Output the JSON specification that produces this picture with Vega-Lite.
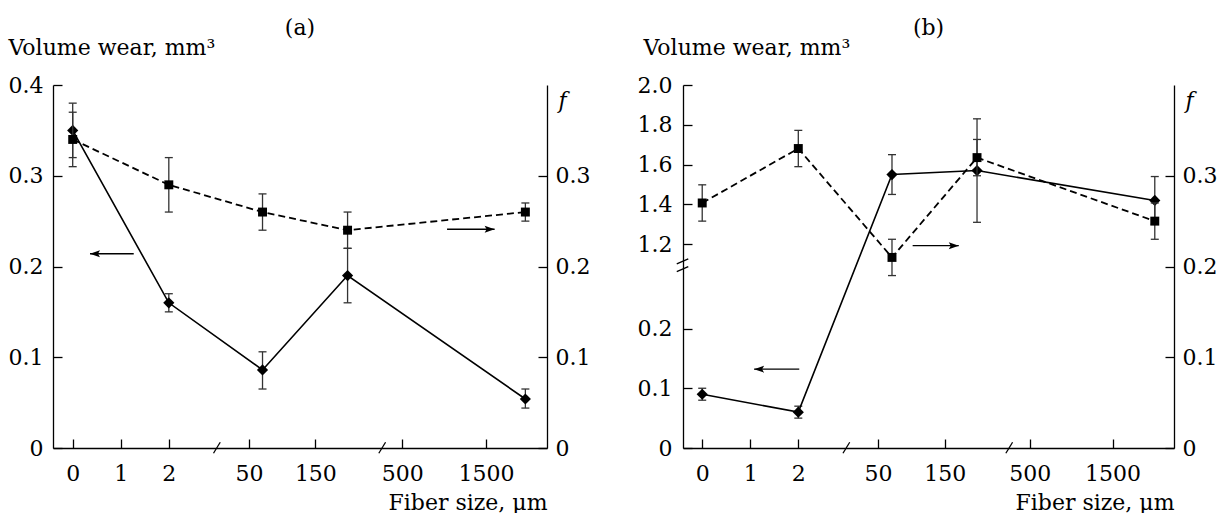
{
  "$schema": "https://vega.github.io/schema/vega-lite/v6.json",
  "padding": {"left": 8, "top": 16, "right": 0, "bottom": 0},
  "autosize": {"type": "pad"},
  "spacing": 136,
  "bounds": "flush",
  "config": {
    "font": "DejaVu Serif",
    "view": {"stroke": null},
    "axis": {"grid": false, "domainColor": "#000", "domainWidth": 1.3, "tickColor": "#000", "tickWidth": 1.3, "tickSize": -9,
      "labelFontSize": 22, "labelColor": "#000", "titleFontSize": 22,
      "titleFontWeight": "normal", "titleColor": "#000", "labelFlush": false, "labelOverlap": false}
  },
  "datasets": {
    "a": [
      {"pos": 0, "wear": 0.35, "wlo": 0.32, "whi": 0.38, "f": 0.34, "flo": 0.31, "fhi": 0.37},
      {"pos": 2, "wear": 0.16, "wlo": 0.15, "whi": 0.17, "f": 0.29, "flo": 0.26, "fhi": 0.32},
      {"pos": 3.95, "wear": 0.086, "wlo": 0.065, "whi": 0.106, "f": 0.26, "flo": 0.24, "fhi": 0.28},
      {"pos": 5.72, "wear": 0.19, "wlo": 0.16, "whi": 0.22, "f": 0.24, "flo": 0.22, "fhi": 0.26},
      {"pos": 9.42, "wear": 0.054, "wlo": 0.044, "whi": 0.065, "f": 0.26, "flo": 0.25, "fhi": 0.27}
    ],
    "b": [
      {"pos": 0, "wear": 0.09, "wlo": 0.08, "whi": 0.10, "f": 0.27, "flo": 0.25, "fhi": 0.29},
      {"pos": 2, "wear": 0.06, "wlo": 0.05, "whi": 0.07, "f": 0.33, "flo": 0.31, "fhi": 0.35},
      {"pos": 3.95, "wear": 1.55, "wlo": 1.45, "whi": 1.65, "f": 0.21, "flo": 0.19, "fhi": 0.23},
      {"pos": 5.72, "wear": 1.57, "wlo": 1.31, "whi": 1.83, "f": 0.32, "flo": 0.30, "fhi": 0.34},
      {"pos": 9.42, "wear": 1.42, "wlo": 1.30, "whi": 1.54, "f": 0.25, "flo": 0.23, "fhi": 0.27}
    ],
    "a_left_arrow": [{"tail": 1.27, "tip": 0.36, "y": 0.214}],
    "a_right_arrow": [{"tail": 7.79, "tip": 8.78, "y": 0.241}],
    "b_left_arrow": [{"tail": 2.02, "tip": 1.08, "y": 0.132}],
    "b_right_arrow": [{"tail": 4.38, "tip": 5.34, "y": 0.223}],
    "a_breaks": [
      {"x1": 2.93, "x2": 3.07, "y1": -0.0058, "y2": 0.0063},
      {"x1": 6.37, "x2": 6.51, "y1": -0.0058, "y2": 0.0063}
    ],
    "b_breaks": [
      {"x1": 2.93, "x2": 3.07, "y1": -0.0058, "y2": 0.0063},
      {"x1": 6.32, "x2": 6.46, "y1": -0.0058, "y2": 0.0063},
      {"x1": -0.53, "x2": -0.29, "y1": 0.1943, "y2": 0.1998},
      {"x1": -0.53, "x2": -0.29, "y1": 0.2028, "y2": 0.2083}
    ]
  },
  "hconcat": [
    {
      "width": 494,
      "height": 363,
      "title": {"text": "(a)", "fontSize": 22, "font": "DejaVu Serif", "fontWeight": "normal", "color": "#000", "anchor": "middle", "frame": "group", "baseline": "alphabetic", "offset": -20.5},
      "layer": [
        {
          "layer": [
            {
              "data": {"name": "a"},
              "mark": {"type": "rule", "color": "#333", "strokeWidth": 1.3},
              "encoding": {
                "x": {"field": "pos", "type": "quantitative", "scale": {"domain": [-0.41, 9.87], "nice": false, "zero": false},
                  "axis": {"values": [0, 1, 2, 3.67, 5.05, 6.86, 8.6], "labelFont": "DejaVu Serif", "titleFont": "DejaVu Serif",
                    "labelExpr": "datum.value < 0.5 ? '0' : datum.value < 1.5 ? '1' : datum.value < 2.5 ? '2' : datum.value < 4 ? '50' : datum.value < 6 ? '150' : datum.value < 7.5 ? '500' : '1500'",
                    "labelPadding": 41, "labelBaseline": "alphabetic", "labelAlign": "center",
                    "title": "Fiber size, μm", "titleX": 494, "titleY": 61, "titleAlign": "right", "titleBaseline": "alphabetic"}},
                "y": {"field": "wlo", "type": "quantitative", "scale": {"domain": [0, 0.4], "nice": false, "zero": false},
                  "axis": {"values": [0, 0.1, 0.2, 0.3, 0.4], "labelFont": "DejaVu Serif", "titleFont": "DejaVu Serif", "labelExpr": "datum.value == 0 ? '0' : format(datum.value, '.1f')",
                    "labelPadding": 19, "labelBaseline": "middle",
                    "title": "Volume wear, mm³", "titleAngle": 0, "titleAlign": "left", "titleBaseline": "alphabetic", "titleX": -45, "titleY": -31}},
                "y2": {"field": "whi"}
              }
            },
            {
              "data": {"name": "a"},
              "mark": {"type": "tick", "orient": "horizontal", "size": 8, "thickness": 1.3, "color": "#333", "opacity": 1},
              "encoding": {
                "x": {"field": "pos", "type": "quantitative", "scale": {"domain": [-0.41, 9.87], "nice": false, "zero": false}},
                "y": {"field": "wlo", "type": "quantitative", "scale": {"domain": [0, 0.4], "nice": false, "zero": false}}
              }
            },
            {
              "data": {"name": "a"},
              "mark": {"type": "tick", "orient": "horizontal", "size": 8, "thickness": 1.3, "color": "#333", "opacity": 1},
              "encoding": {
                "x": {"field": "pos", "type": "quantitative", "scale": {"domain": [-0.41, 9.87], "nice": false, "zero": false}},
                "y": {"field": "whi", "type": "quantitative", "scale": {"domain": [0, 0.4], "nice": false, "zero": false}}
              }
            },
            {
              "data": {"name": "a"},
              "mark": {"type": "line", "color": "#000", "strokeWidth": 1.6},
              "encoding": {
                "x": {"field": "pos", "type": "quantitative", "scale": {"domain": [-0.41, 9.87], "nice": false, "zero": false}},
                "y": {"field": "wear", "type": "quantitative", "scale": {"domain": [0, 0.4], "nice": false, "zero": false}}
              }
            },
            {
              "data": {"name": "a"},
              "mark": {"type": "point", "shape": "diamond", "filled": true, "size": 125, "color": "#000", "opacity": 1},
              "encoding": {
                "x": {"field": "pos", "type": "quantitative", "scale": {"domain": [-0.41, 9.87], "nice": false, "zero": false}},
                "y": {"field": "wear", "type": "quantitative", "scale": {"domain": [0, 0.4], "nice": false, "zero": false}}
              }
            },
            {
              "data": {"name": "a_left_arrow"},
              "mark": {"type": "rule", "color": "#000", "strokeWidth": 1.4},
              "encoding": {
                "x": {"field": "tip", "type": "quantitative", "scale": {"domain": [-0.41, 9.87], "nice": false, "zero": false}},
                "x2": {"field": "tail"},
                "y": {"field": "y", "type": "quantitative", "scale": {"domain": [0, 0.4], "nice": false, "zero": false}}
              }
            },
            {
              "data": {"name": "a_left_arrow"},
              "mark": {"type": "point", "shape": "M0,0L1,-0.35L0.8,0L1,0.35Z", "filled": true, "size": 400, "color": "#000", "opacity": 1, "strokeWidth": 0},
              "encoding": {
                "x": {"field": "tip", "type": "quantitative", "scale": {"domain": [-0.41, 9.87], "nice": false, "zero": false}},
                "y": {"field": "y", "type": "quantitative", "scale": {"domain": [0, 0.4], "nice": false, "zero": false}}
              }
            }
          ]
        },
        {
          "layer": [
            {
              "data": {"name": "a"},
              "mark": {"type": "rule", "color": "#333", "strokeWidth": 1.3},
              "encoding": {
                "x": {"field": "pos", "type": "quantitative", "scale": {"domain": [-0.41, 9.87], "nice": false, "zero": false}},
                "y": {"field": "flo", "type": "quantitative", "scale": {"domain": [0, 0.4], "nice": false, "zero": false},
                  "axis": {"orient": "right", "values": [0, 0.1, 0.2, 0.3], "labelFont": "DejaVu Serif", "titleFont": "DejaVu Serif", "labelExpr": "datum.value == 0 ? '0' : format(datum.value, '.1f')",
                    "labelPadding": 17, "labelBaseline": "middle",
                    "title": "f", "titleFontStyle": "italic", "titleAngle": 0, "titleAlign": "left", "titleBaseline": "alphabetic", "titleX": 11, "titleY": 22}},
                "y2": {"field": "fhi"}
              }
            },
            {
              "data": {"name": "a"},
              "mark": {"type": "tick", "orient": "horizontal", "size": 8, "thickness": 1.3, "color": "#333", "opacity": 1},
              "encoding": {
                "x": {"field": "pos", "type": "quantitative", "scale": {"domain": [-0.41, 9.87], "nice": false, "zero": false}},
                "y": {"field": "flo", "type": "quantitative", "scale": {"domain": [0, 0.4], "nice": false, "zero": false}}
              }
            },
            {
              "data": {"name": "a"},
              "mark": {"type": "tick", "orient": "horizontal", "size": 8, "thickness": 1.3, "color": "#333", "opacity": 1},
              "encoding": {
                "x": {"field": "pos", "type": "quantitative", "scale": {"domain": [-0.41, 9.87], "nice": false, "zero": false}},
                "y": {"field": "fhi", "type": "quantitative", "scale": {"domain": [0, 0.4], "nice": false, "zero": false}}
              }
            },
            {
              "data": {"name": "a"},
              "mark": {"type": "line", "color": "#000", "strokeWidth": 1.8, "strokeDash": [7, 4]},
              "encoding": {
                "x": {"field": "pos", "type": "quantitative", "scale": {"domain": [-0.41, 9.87], "nice": false, "zero": false}},
                "y": {"field": "f", "type": "quantitative", "scale": {"domain": [0, 0.4], "nice": false, "zero": false}}
              }
            },
            {
              "data": {"name": "a"},
              "mark": {"type": "point", "shape": "square", "filled": true, "size": 80, "color": "#000", "opacity": 1},
              "encoding": {
                "x": {"field": "pos", "type": "quantitative", "scale": {"domain": [-0.41, 9.87], "nice": false, "zero": false}},
                "y": {"field": "f", "type": "quantitative", "scale": {"domain": [0, 0.4], "nice": false, "zero": false}}
              }
            },
            {
              "data": {"name": "a_right_arrow"},
              "mark": {"type": "rule", "color": "#000", "strokeWidth": 1.4},
              "encoding": {
                "x": {"field": "tail", "type": "quantitative", "scale": {"domain": [-0.41, 9.87], "nice": false, "zero": false}},
                "x2": {"field": "tip"},
                "y": {"field": "y", "type": "quantitative", "scale": {"domain": [0, 0.4], "nice": false, "zero": false}}
              }
            },
            {
              "data": {"name": "a_right_arrow"},
              "mark": {"type": "point", "shape": "M0,0L-1,-0.35L-0.8,0L-1,0.35Z", "filled": true, "size": 400, "color": "#000", "opacity": 1, "strokeWidth": 0},
              "encoding": {
                "x": {"field": "tip", "type": "quantitative", "scale": {"domain": [-0.41, 9.87], "nice": false, "zero": false}},
                "y": {"field": "y", "type": "quantitative", "scale": {"domain": [0, 0.4], "nice": false, "zero": false}}
              }
            },
            {
              "data": {"name": "a_breaks"},
              "mark": {"type": "rule", "color": "#000", "strokeWidth": 1.3},
              "encoding": {
                "x": {"field": "x1", "type": "quantitative", "scale": {"domain": [-0.41, 9.87], "nice": false, "zero": false}},
                "x2": {"field": "x2"},
                "y": {"field": "y1", "type": "quantitative", "scale": {"domain": [0, 0.4], "nice": false, "zero": false}},
                "y2": {"field": "y2"}
              }
            }
          ]
        }
      ],
      "resolve": {"scale": {"y": "independent"}}
    },
    {
      "width": 491,
      "height": 363,
      "title": {"text": "(b)", "fontSize": 22, "font": "DejaVu Serif", "fontWeight": "normal", "color": "#000", "anchor": "middle", "frame": "group", "baseline": "alphabetic", "offset": -20.5},
      "layer": [
        {
          "layer": [
            {
              "data": {"name": "b"},
              "mark": {"type": "rule", "color": "#333", "strokeWidth": 1.3},
              "encoding": {
                "x": {"field": "pos", "type": "quantitative", "scale": {"domain": [-0.40, 9.82], "nice": false, "zero": false},
                  "axis": {"values": [0, 1, 2, 3.66, 5.05, 6.82, 8.54], "labelFont": "DejaVu Serif", "titleFont": "DejaVu Serif",
                    "labelExpr": "datum.value < 0.5 ? '0' : datum.value < 1.5 ? '1' : datum.value < 2.5 ? '2' : datum.value < 4 ? '50' : datum.value < 6 ? '150' : datum.value < 7.5 ? '500' : '1500'",
                    "labelPadding": 41, "labelBaseline": "alphabetic", "labelAlign": "center",
                    "title": "Fiber size, μm", "titleX": 491, "titleY": 61, "titleAlign": "right", "titleBaseline": "alphabetic"}},
                "y": {"field": "wlo", "type": "quantitative", "scale": {"type": "linear", "domain": [0, 0.3, 1.1, 2.0], "range": [363, 183.75, 179.1, 0], "nice": false, "zero": false},
                  "axis": {"values": [0, 0.1, 0.2, 1.2, 1.4, 1.6, 1.8, 2.0], "labelFont": "DejaVu Serif", "titleFont": "DejaVu Serif", "labelExpr": "datum.value == 0 ? '0' : format(datum.value, '.1f')",
                    "labelPadding": 20, "labelBaseline": "middle",
                    "title": "Volume wear, mm³", "titleAngle": 0, "titleAlign": "left", "titleBaseline": "alphabetic", "titleX": -40, "titleY": -31}},
                "y2": {"field": "whi"}
              }
            },
            {
              "data": {"name": "b"},
              "mark": {"type": "tick", "orient": "horizontal", "size": 8, "thickness": 1.3, "color": "#333", "opacity": 1},
              "encoding": {
                "x": {"field": "pos", "type": "quantitative", "scale": {"domain": [-0.40, 9.82], "nice": false, "zero": false}},
                "y": {"field": "wlo", "type": "quantitative", "scale": {"type": "linear", "domain": [0, 0.3, 1.1, 2.0], "range": [363, 183.75, 179.1, 0], "nice": false, "zero": false}}
              }
            },
            {
              "data": {"name": "b"},
              "mark": {"type": "tick", "orient": "horizontal", "size": 8, "thickness": 1.3, "color": "#333", "opacity": 1},
              "encoding": {
                "x": {"field": "pos", "type": "quantitative", "scale": {"domain": [-0.40, 9.82], "nice": false, "zero": false}},
                "y": {"field": "whi", "type": "quantitative", "scale": {"type": "linear", "domain": [0, 0.3, 1.1, 2.0], "range": [363, 183.75, 179.1, 0], "nice": false, "zero": false}}
              }
            },
            {
              "data": {"name": "b"},
              "mark": {"type": "line", "color": "#000", "strokeWidth": 1.6},
              "encoding": {
                "x": {"field": "pos", "type": "quantitative", "scale": {"domain": [-0.40, 9.82], "nice": false, "zero": false}},
                "y": {"field": "wear", "type": "quantitative", "scale": {"type": "linear", "domain": [0, 0.3, 1.1, 2.0], "range": [363, 183.75, 179.1, 0], "nice": false, "zero": false}}
              }
            },
            {
              "data": {"name": "b"},
              "mark": {"type": "point", "shape": "diamond", "filled": true, "size": 125, "color": "#000", "opacity": 1},
              "encoding": {
                "x": {"field": "pos", "type": "quantitative", "scale": {"domain": [-0.40, 9.82], "nice": false, "zero": false}},
                "y": {"field": "wear", "type": "quantitative", "scale": {"type": "linear", "domain": [0, 0.3, 1.1, 2.0], "range": [363, 183.75, 179.1, 0], "nice": false, "zero": false}}
              }
            },
            {
              "data": {"name": "b_left_arrow"},
              "mark": {"type": "rule", "color": "#000", "strokeWidth": 1.4},
              "encoding": {
                "x": {"field": "tip", "type": "quantitative", "scale": {"domain": [-0.40, 9.82], "nice": false, "zero": false}},
                "x2": {"field": "tail"},
                "y": {"field": "y", "type": "quantitative", "scale": {"type": "linear", "domain": [0, 0.3, 1.1, 2.0], "range": [363, 183.75, 179.1, 0], "nice": false, "zero": false}}
              }
            },
            {
              "data": {"name": "b_left_arrow"},
              "mark": {"type": "point", "shape": "M0,0L1,-0.35L0.8,0L1,0.35Z", "filled": true, "size": 400, "color": "#000", "opacity": 1, "strokeWidth": 0},
              "encoding": {
                "x": {"field": "tip", "type": "quantitative", "scale": {"domain": [-0.40, 9.82], "nice": false, "zero": false}},
                "y": {"field": "y", "type": "quantitative", "scale": {"type": "linear", "domain": [0, 0.3, 1.1, 2.0], "range": [363, 183.75, 179.1, 0], "nice": false, "zero": false}}
              }
            }
          ]
        },
        {
          "layer": [
            {
              "data": {"name": "b"},
              "mark": {"type": "rule", "color": "#333", "strokeWidth": 1.3},
              "encoding": {
                "x": {"field": "pos", "type": "quantitative", "scale": {"domain": [-0.40, 9.82], "nice": false, "zero": false}},
                "y": {"field": "flo", "type": "quantitative", "scale": {"domain": [0, 0.4], "nice": false, "zero": false},
                  "axis": {"orient": "right", "values": [0, 0.1, 0.2, 0.3], "labelFont": "DejaVu Serif", "titleFont": "DejaVu Serif", "labelExpr": "datum.value == 0 ? '0' : format(datum.value, '.1f')",
                    "labelPadding": 17, "labelBaseline": "middle",
                    "title": "f", "titleFontStyle": "italic", "titleAngle": 0, "titleAlign": "left", "titleBaseline": "alphabetic", "titleX": 11, "titleY": 22}},
                "y2": {"field": "fhi"}
              }
            },
            {
              "data": {"name": "b"},
              "mark": {"type": "tick", "orient": "horizontal", "size": 8, "thickness": 1.3, "color": "#333", "opacity": 1},
              "encoding": {
                "x": {"field": "pos", "type": "quantitative", "scale": {"domain": [-0.40, 9.82], "nice": false, "zero": false}},
                "y": {"field": "flo", "type": "quantitative", "scale": {"domain": [0, 0.4], "nice": false, "zero": false}}
              }
            },
            {
              "data": {"name": "b"},
              "mark": {"type": "tick", "orient": "horizontal", "size": 8, "thickness": 1.3, "color": "#333", "opacity": 1},
              "encoding": {
                "x": {"field": "pos", "type": "quantitative", "scale": {"domain": [-0.40, 9.82], "nice": false, "zero": false}},
                "y": {"field": "fhi", "type": "quantitative", "scale": {"domain": [0, 0.4], "nice": false, "zero": false}}
              }
            },
            {
              "data": {"name": "b"},
              "mark": {"type": "line", "color": "#000", "strokeWidth": 1.8, "strokeDash": [7, 4]},
              "encoding": {
                "x": {"field": "pos", "type": "quantitative", "scale": {"domain": [-0.40, 9.82], "nice": false, "zero": false}},
                "y": {"field": "f", "type": "quantitative", "scale": {"domain": [0, 0.4], "nice": false, "zero": false}}
              }
            },
            {
              "data": {"name": "b"},
              "mark": {"type": "point", "shape": "square", "filled": true, "size": 80, "color": "#000", "opacity": 1},
              "encoding": {
                "x": {"field": "pos", "type": "quantitative", "scale": {"domain": [-0.40, 9.82], "nice": false, "zero": false}},
                "y": {"field": "f", "type": "quantitative", "scale": {"domain": [0, 0.4], "nice": false, "zero": false}}
              }
            },
            {
              "data": {"name": "b_right_arrow"},
              "mark": {"type": "rule", "color": "#000", "strokeWidth": 1.4},
              "encoding": {
                "x": {"field": "tail", "type": "quantitative", "scale": {"domain": [-0.40, 9.82], "nice": false, "zero": false}},
                "x2": {"field": "tip"},
                "y": {"field": "y", "type": "quantitative", "scale": {"domain": [0, 0.4], "nice": false, "zero": false}}
              }
            },
            {
              "data": {"name": "b_right_arrow"},
              "mark": {"type": "point", "shape": "M0,0L-1,-0.35L-0.8,0L-1,0.35Z", "filled": true, "size": 400, "color": "#000", "opacity": 1, "strokeWidth": 0},
              "encoding": {
                "x": {"field": "tip", "type": "quantitative", "scale": {"domain": [-0.40, 9.82], "nice": false, "zero": false}},
                "y": {"field": "y", "type": "quantitative", "scale": {"domain": [0, 0.4], "nice": false, "zero": false}}
              }
            },
            {
              "data": {"name": "b_breaks"},
              "mark": {"type": "rule", "color": "#000", "strokeWidth": 1.3},
              "encoding": {
                "x": {"field": "x1", "type": "quantitative", "scale": {"domain": [-0.40, 9.82], "nice": false, "zero": false}},
                "x2": {"field": "x2"},
                "y": {"field": "y1", "type": "quantitative", "scale": {"domain": [0, 0.4], "nice": false, "zero": false}},
                "y2": {"field": "y2"}
              }
            }
          ]
        }
      ],
      "resolve": {"scale": {"y": "independent"}}
    }
  ]
}
